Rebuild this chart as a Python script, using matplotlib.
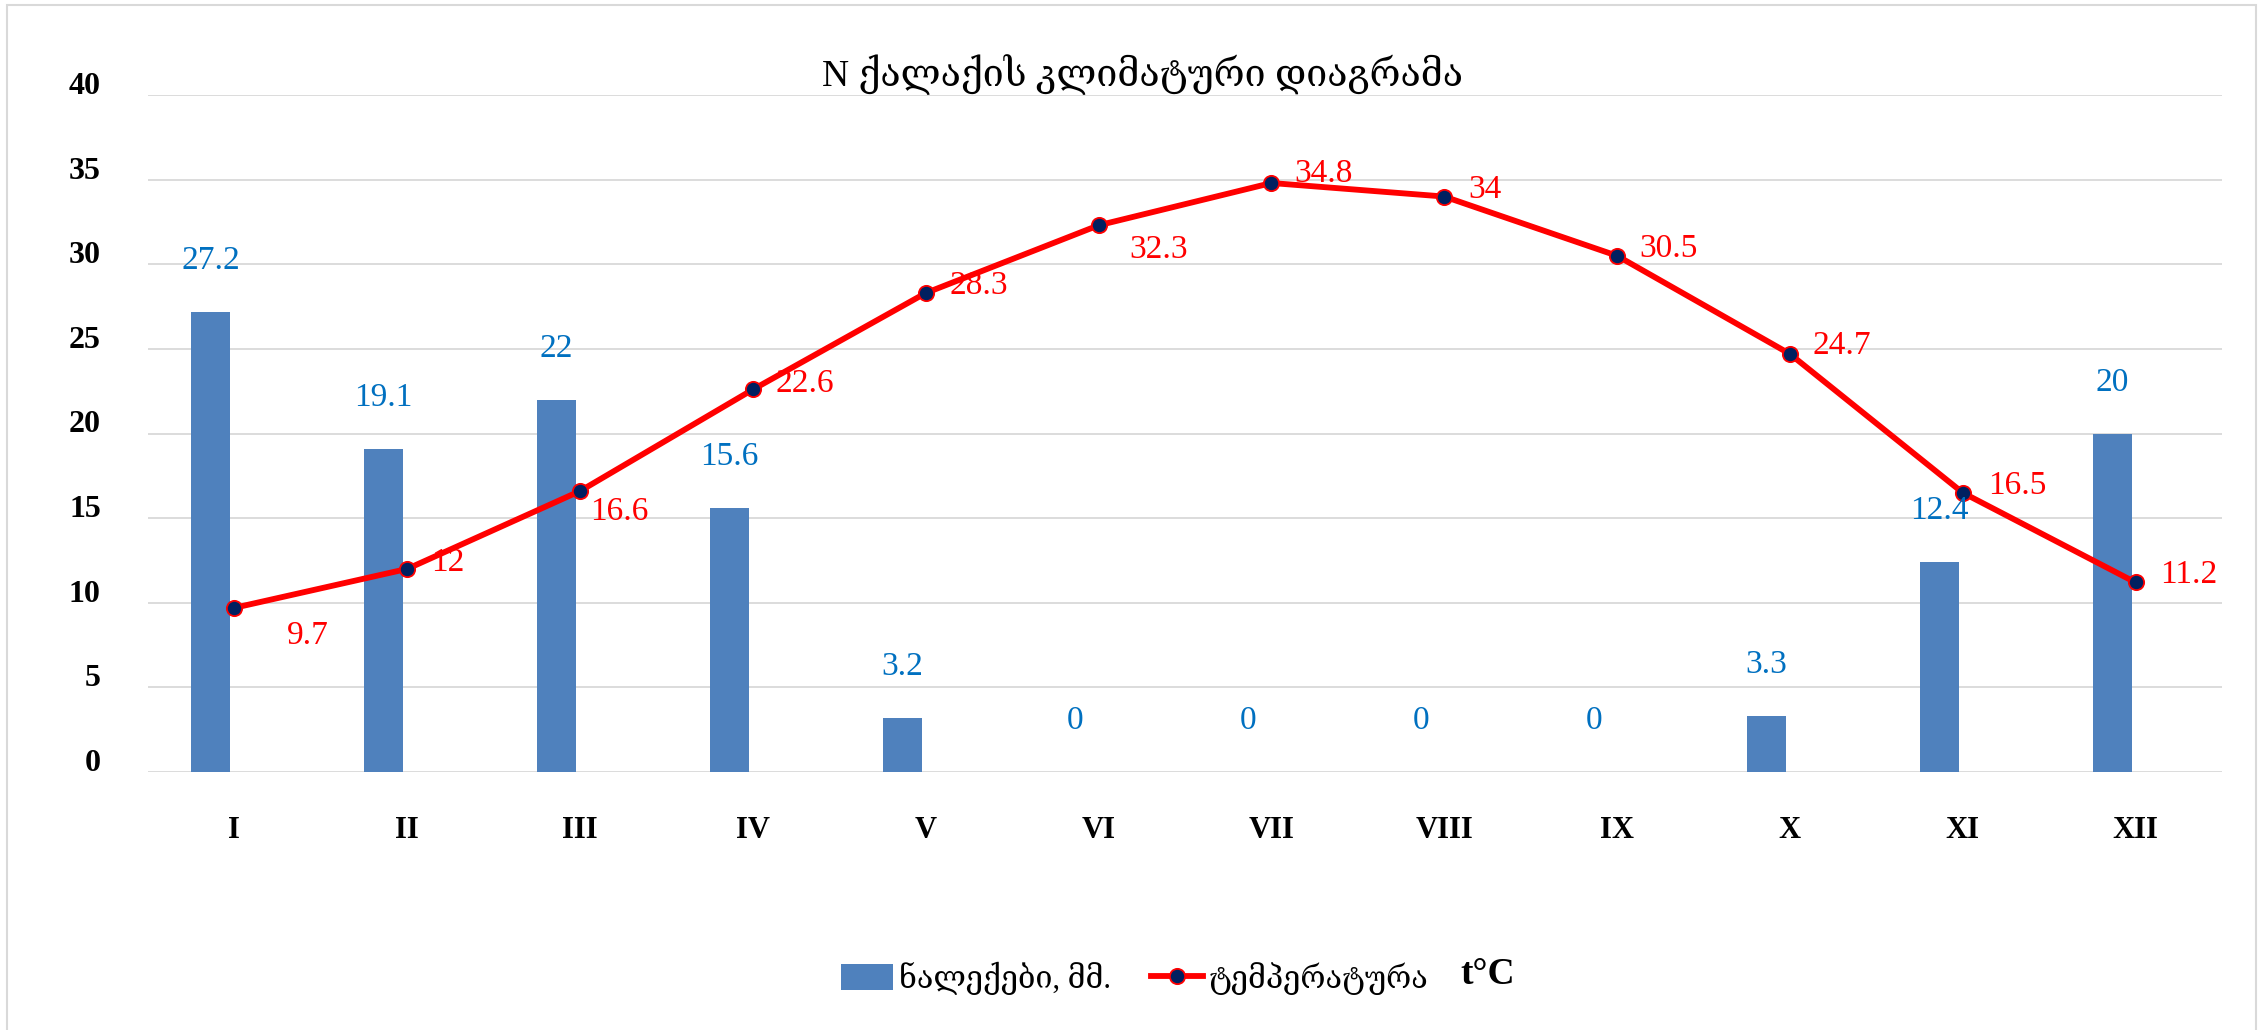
import matplotlib
matplotlib.use("Agg")
import matplotlib.pyplot as plt
from matplotlib.patches import Rectangle
from matplotlib.transforms import ScaledTranslation

plt.rcParams['font.family'] = ['Liberation Serif', 'DejaVu Serif', 'DejaVu Sans']

# data
months = ['I', 'II', 'III', 'IV', 'V', 'VI', 'VII', 'VIII', 'IX', 'X', 'XI', 'XII']
precip = [27.2, 19.1, 22, 15.6, 3.2, 0, 0, 0, 0, 3.3, 12.4, 20]
temp = [9.7, 12, 16.6, 22.6, 28.3, 32.3, 34.8, 34, 30.5, 24.7, 16.5, 11.2]
title = 'N ქალაქის კლიმატური დიაგრამა'
precip_name = 'ნალექები, მმ.'
temp_name = 'ტემპერატურა'
yticks = [0, 5, 10, 15, 20, 25, 30, 35, 40]

# label offsets for temperature values, in pixels (dx, dy)
temp_off = [(52, -28), (24, 6), (10, -21), (23, 6), (24, 7), (31, -24),
            (23, 9), (24, 7), (22, 7), (23, 8), (25, 7), (25, 8)]

W, H = 2268, 1030
dpi = 100
fig = plt.figure(figsize=(W / dpi, H / dpi), dpi=dpi)
ax = fig.add_axes([148 / W, 1 - 772 / H, (2222 - 148) / W, (772 - 95) / H])

x = list(range(len(months)))
bx = [i - 0.136 for i in x]
bars = ax.bar(bx, precip, width=0.225, color='#4F81BD', zorder=2, label=precip_name)
line, = ax.plot(x, temp, color='#FF0000', lw=4.2, marker='o', ms=11,
                mfc='#002060', mec='#FF0000', mew=1.3, zorder=3, label=temp_name)

for i, v in enumerate(precip):
    ax.annotate(f'{v:g}', (bx[i], v), xytext=(0, 51 * 0.72), textcoords='offset points',
                ha='center', va='center', fontsize=24, color='#0070C0', zorder=4)
for i, v in enumerate(temp):
    dx, dy = temp_off[i]
    ax.annotate(f'{v:g}', (x[i], v), xytext=(dx * 0.72, dy * 0.72), textcoords='offset points',
                ha='left', va='center', fontsize=24, color='#FF0000', zorder=4)

ax.set_xlim(-0.5, 11.5)
ax.set_ylim(0, 40)
ax.set_yticks(yticks)
ax.set_xticks(x)
ax.set_xticklabels(months, fontsize=22, fontweight='bold')
ax.set_yticklabels([str(t) for t in yticks], fontsize=23, fontweight='bold')
ax.tick_params(axis='both', length=0)
ax.tick_params(axis='y', pad=34)
ax.tick_params(axis='x', pad=32)
for lab in ax.get_yticklabels():
    lab.set_transform(lab.get_transform() + ScaledTranslation(0, 12 / dpi, fig.dpi_scale_trans))
ax.grid(axis='y', color='#D9D9D9', lw=1.3, zorder=0)
ax.set_axisbelow(True)
for s in ax.spines.values():
    s.set_visible(False)

fig.text(1143 / W, 1 - 75 / H, title, ha='center', va='center', fontsize=27)

# outer frame
fig.add_artist(Rectangle((7 / W, -0.01), (2256 - 7) / W, 1.01 - 5 / H, transform=fig.transFigure,
                         fill=False, edgecolor='#D9D9D9', lw=1.5))

leg = fig.legend([bars, line], [precip_name, temp_name], loc='center',
                 bbox_to_anchor=(1135 / W, 1 - 978 / H),
                 ncol=2, frameon=False, fontsize=22, handlelength=1.7, handleheight=0.95,
                 handletextpad=0.2, columnspacing=1.3)

fig.canvas.draw()
bb = leg.get_texts()[1].get_window_extent()
fig.text((bb.x1 + 32) / W, 1 - 975 / H, 't°C', ha='left', va='center',
         fontsize=27, fontweight='bold')

fig.savefig('out.png', dpi=dpi)
